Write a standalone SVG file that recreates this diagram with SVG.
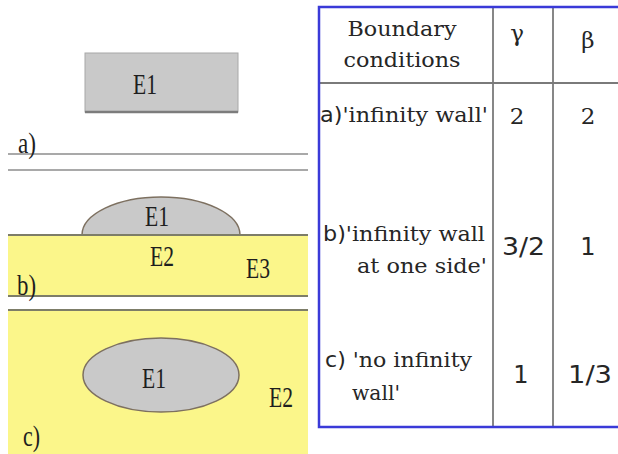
<svg xmlns="http://www.w3.org/2000/svg" width="618" height="454" viewBox="0 0 618 454">
<style>
.lbl{font-family:"Liberation Serif","Times New Roman",serif;font-size:29px;fill:#1e1e1e;}
.tt{font-family:"DejaVu Serif","Liberation Serif",serif;font-size:21px;fill:#262626;}
.tn{font-family:"DejaVu Serif","Liberation Serif",serif;font-size:23px;fill:#262626;}
.ts{font-family:"DejaVu Sans","Liberation Sans",sans-serif;font-size:24px;fill:#262626;}
.gl{stroke:#8c8c8c;stroke-width:1.5;fill:none;}
.yl{stroke:#7d7d68;stroke-width:1.8;fill:none;}
.grid{stroke:#7a7a7a;stroke-width:1.8;fill:none;}
.el{fill:#c9c9c9;stroke:#7d7060;stroke-width:1.5;}
</style>
<rect x="0" y="0" width="618" height="454" fill="#ffffff"/>

<g id="panel-a">
  <rect x="85" y="53" width="153" height="59" fill="#c9c9c9" stroke="#a8a8a8" stroke-width="1"/>
  <line x1="85" y1="112" x2="238" y2="112" stroke="#7c7c7c" stroke-width="2.5"/>
  <text class="lbl" x="145" y="94" text-anchor="middle" textLength="24" lengthAdjust="spacingAndGlyphs">E1</text>
  <line class="gl" x1="8" y1="154" x2="308" y2="154"/>
  <line class="gl" x1="8" y1="170" x2="308" y2="170"/>
  <text class="lbl" x="18" y="153" textLength="18" lengthAdjust="spacingAndGlyphs">a)</text>
</g>

<g id="panel-b">
  <rect x="8" y="235" width="300" height="61" fill="#fbf68a"/>
  <path class="el" d="M82,235 A79,38 0 0 1 240,235 Z"/>
  <line class="yl" x1="8" y1="235" x2="308" y2="235"/>
  <line class="yl" x1="8" y1="296" x2="308" y2="296"/>
  <text class="lbl" x="157" y="226" text-anchor="middle" textLength="24" lengthAdjust="spacingAndGlyphs">E1</text>
  <text class="lbl" x="162" y="266" text-anchor="middle" textLength="24" lengthAdjust="spacingAndGlyphs">E2</text>
  <text class="lbl" x="258" y="278" text-anchor="middle" textLength="24" lengthAdjust="spacingAndGlyphs">E3</text>
  <text class="lbl" x="17" y="295" textLength="19" lengthAdjust="spacingAndGlyphs">b)</text>
</g>

<g id="panel-c">
  <rect x="8" y="310" width="300" height="144" fill="#fbf68a"/>
  <line class="yl" x1="8" y1="310" x2="308" y2="310"/>
  <ellipse class="el" cx="161" cy="375" rx="78" ry="37"/>
  <text class="lbl" x="154" y="388" text-anchor="middle" textLength="24" lengthAdjust="spacingAndGlyphs">E1</text>
  <text class="lbl" x="281" y="407" text-anchor="middle" textLength="24" lengthAdjust="spacingAndGlyphs">E2</text>
  <text class="lbl" x="23" y="446" textLength="17" lengthAdjust="spacingAndGlyphs">c)</text>
</g>

<g id="table">
  <line class="grid" x1="493" y1="7" x2="493" y2="427"/>
  <line class="grid" x1="553" y1="7" x2="553" y2="427"/>
  <line class="grid" x1="319" y1="83" x2="618" y2="83"/>
  <rect x="319" y="7" width="305" height="420" fill="none" stroke="#3a3ad8" stroke-width="2.5"/>

  <text class="tt" x="402" y="36" text-anchor="middle" textLength="109" lengthAdjust="spacingAndGlyphs">Boundary</text>
  <text class="tt" x="402" y="67" text-anchor="middle" textLength="117" lengthAdjust="spacingAndGlyphs">conditions</text>
  <text class="tn" x="517" y="41" text-anchor="middle">γ</text>
  <text class="tn" x="588" y="48" text-anchor="middle">β</text>

  <text class="tt" x="320" y="122" textLength="168" lengthAdjust="spacingAndGlyphs"><tspan font-family="DejaVu Sans, sans-serif">a)</tspan>'infinity wall'</text>
  <text class="tn" x="517" y="124" text-anchor="middle">2</text>
  <text class="tn" x="588" y="124" text-anchor="middle">2</text>

  <text class="tt" x="323" y="241" textLength="162" lengthAdjust="spacingAndGlyphs"><tspan font-family="DejaVu Sans, sans-serif">b)</tspan>'infinity wall</text>
  <text class="tt" x="357" y="273" textLength="130" lengthAdjust="spacingAndGlyphs">at one side'</text>
  <text class="ts" x="502" y="255" textLength="43" lengthAdjust="spacingAndGlyphs">3/2</text>
  <text class="ts" x="588" y="255" text-anchor="middle">1</text>

  <text class="tt" x="325" y="367" textLength="147" lengthAdjust="spacingAndGlyphs"><tspan font-family="DejaVu Sans, sans-serif">c)</tspan> 'no infinity</text>
  <text class="tt" x="352" y="400" textLength="48" lengthAdjust="spacingAndGlyphs">wall'</text>
  <text class="ts" x="521" y="383" text-anchor="middle">1</text>
  <text class="ts" x="568" y="383" textLength="44" lengthAdjust="spacingAndGlyphs">1/3</text>
</g>
</svg>
